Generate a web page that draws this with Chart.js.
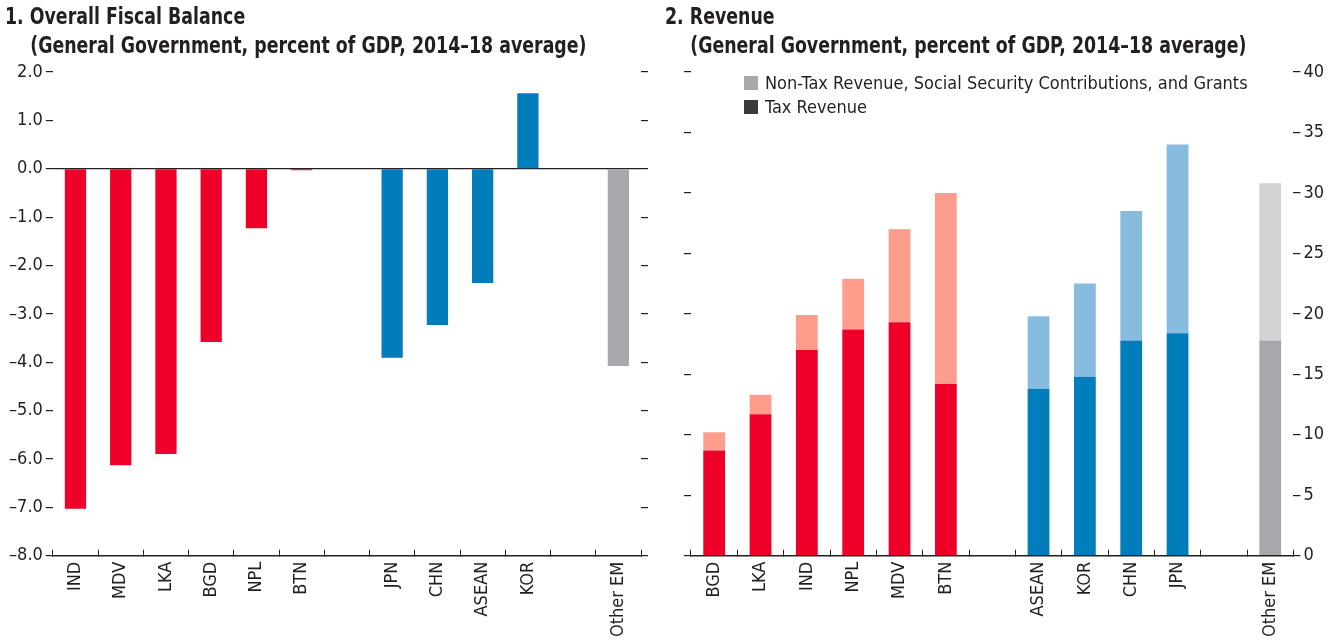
<!DOCTYPE html>
<html>
<head>
<meta charset="utf-8">
<script src="https://cdn.jsdelivr.net/npm/chart.js@4/dist/chart.umd.min.js"></script>
<style>
  body { margin: 0; width: 1335px; height: 641px; background: #fff; overflow: hidden; position: relative;
         font-family: "Liberation Sans Narrow", "DejaVu Sans Condensed", "Roboto", sans-serif; color: #231f20; }
  .panel { position: absolute; top: 0; height: 649px; }
  #left { left: 0; width: 660px; }
  #right { left: 660px; width: 675px; }
  .title { position: absolute; font-weight: bold; font-size: 23px; line-height: 29px; white-space: nowrap;
           transform: scaleX(0.84); transform-origin: 0 0; }
  .title .sub { padding-left: 30px; }
  .legend { position: absolute; left: 84px; top: 71px; font-size: 18px; line-height: 24px; white-space: nowrap; }
  .legend span { display: inline-block; width: 14px; height: 14px; margin-right: 7px; vertical-align: -1px; }
</style>
</head>
<body>
<div class="panel" id="left">
  <canvas id="balance-chart"></canvas>
  <div class="title" style="left:5px; top:2px;">1. Overall Fiscal Balance<br><span class="sub">(General Government, percent of GDP, 2014–18 average)</span></div>
</div>
<div class="panel" id="right">
  <canvas id="revenue-chart"></canvas>
  <div class="title" style="left:5px; top:2px;">2. Revenue<br><span class="sub">(General Government, percent of GDP, 2014–18 average)</span></div>
  <div class="legend">
    <div><span style="background:#a7a8ab"></span>Non-Tax Revenue, Social Security Contributions, and Grants</div>
    <div><span style="background:#3b3b3b"></span>Tax Revenue</div>
  </div>
</div>
<script>
// panel 1
const balanceLabels = ['IND', 'MDV', 'LKA', 'BGD', 'NPL', 'BTN', '', 'JPN', 'CHN', 'ASEAN', 'KOR', '', 'Other EM'];
const balanceValues = [-7.03, -6.13, -5.9, -3.58, -1.23, -0.03, null, -3.91, -3.23, -2.36, 1.56, null, -4.08];
const balanceGroups = ['sa', 'sa', 'sa', 'sa', 'sa', 'sa', '', 'asia', 'asia', 'asia', 'asia', '', 'em'];
const balanceTicks = [2, 1, 0, -1, -2, -3, -4, -5, -6, -7, -8];

// panel 2
const revenueLabels = ['BGD', 'LKA', 'IND', 'NPL', 'MDV', 'BTN', '', 'ASEAN', 'KOR', 'CHN', 'JPN', '', 'Other EM'];
const taxRevenue = [8.7, 11.7, 17.0, 18.7, 19.3, 14.2, null, 13.8, 14.8, 17.8, 18.4, null, 17.8];
const nonTaxRevenue = [1.5, 1.6, 2.9, 4.2, 7.7, 15.8, null, 6.0, 7.7, 10.7, 15.6, null, 13.0];
const revenueGroups = ['sa', 'sa', 'sa', 'sa', 'sa', 'sa', '', 'asia', 'asia', 'asia', 'asia', '', 'em'];
const revenueTicks = [0, 5, 10, 15, 20, 25, 30, 35, 40];

const dark = {sa: '#ee0028', asia: '#007dba', em: '#a7a8ab', '': '#fff'};
const light = {sa: '#ff9d8d', asia: '#88bcdf', em: '#d2d3d5', '': '#fff'};
const ink = '#231f20';

Chart.defaults.font.family = '"Liberation Sans Narrow", "DejaVu Sans Condensed", Roboto, sans-serif';
Chart.defaults.font.size = 18;
Chart.defaults.color = ink;
Chart.defaults.animation = false;
Chart.defaults.maintainAspectRatio = false;
Chart.defaults.plugins.legend.display = false;
Chart.defaults.plugins.tooltip.enabled = false;

function xAxis(stacked) {
    return {
        stacked: stacked,
        grid: { offset: true, drawOnChartArea: false, tickLength: -6, color: ink, lineWidth: 1 },
        border: { display: true, color: ink, width: 1.5 },
        ticks: { maxRotation: 90, minRotation: 90, autoSkip: false, padding: 12, font: { size: 18 } }
    };
}

function sideAxis(pos, min, max, ticks, showLabels, fmt, zeroLine) {
    return {
        position: pos,
        min: min,
        max: max,
        afterBuildTicks: s => { s.ticks = ticks.map(v => ({ value: v })); },
        grid: {
            drawOnChartArea: zeroLine,
            color: c => (zeroLine && c.tick && c.tick.value === 0) ? ink : 'rgba(0,0,0,0)',
            tickColor: ink,
            tickLength: 7,
            lineWidth: 1.2
        },
        border: { display: false },
        ticks: { display: showLabels, padding: 3, callback: fmt }
    };
}

const fmtBalance = v => (v < 0 ? '\u2013' : '') + Math.abs(v).toFixed(1);

new Chart(document.getElementById('balance-chart'), {
    type: 'bar',
    data: {
        labels: balanceLabels,
        datasets: [{
            data: balanceValues,
            backgroundColor: balanceGroups.map(g => dark[g]),
            categoryPercentage: 1,
            barPercentage: 0.47
        }]
    },
    options: {
        layout: { padding: { top: 72, right: 12, left: 6, bottom: 0 } },
        scales: {
            x: xAxis(false),
            y: sideAxis('left', -8, 2, balanceTicks, true, fmtBalance, true),
            y2: sideAxis('right', -8, 2, balanceTicks, false, fmtBalance, false)
        }
    }
});

new Chart(document.getElementById('revenue-chart'), {
    type: 'bar',
    data: {
        labels: revenueLabels,
        datasets: [{
            label: 'Tax Revenue',
            data: taxRevenue,
            backgroundColor: revenueGroups.map(g => dark[g]),
            categoryPercentage: 1,
            barPercentage: 0.47
        }, {
            label: 'Non-Tax Revenue, Social Security Contributions, and Grants',
            data: nonTaxRevenue,
            backgroundColor: revenueGroups.map(g => light[g]),
            categoryPercentage: 1,
            barPercentage: 0.47
        }]
    },
    options: {
        layout: { padding: { top: 72, right: 8, left: 24, bottom: 0 } },
        scales: {
            x: xAxis(true),
            y: Object.assign(sideAxis('left', 0, 40, revenueTicks, false, v => v, false), { stacked: true }),
            y2: sideAxis('right', 0, 40, revenueTicks, true, v => v, false)
        }
    }
});
</script>
</body>
</html>
